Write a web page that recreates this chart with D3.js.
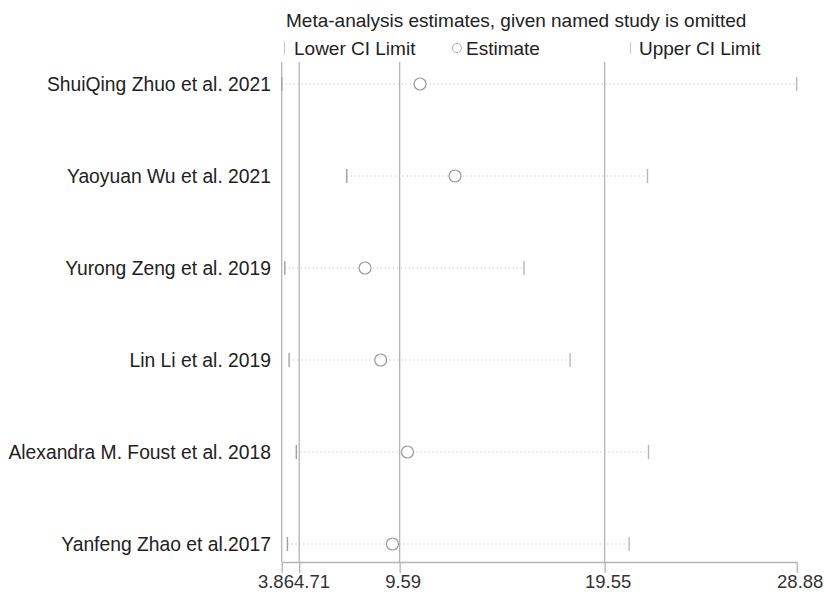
<!DOCTYPE html>
<html>
<head>
<meta charset="utf-8">
<script src="https://cdn.jsdelivr.net/npm/d3@7/dist/d3.min.js"></script>
<style>
  html, body { margin: 0; padding: 0; background: #fff; }
  svg { display: block; }
  text { font-family: "Liberation Sans", Arial, Helvetica, sans-serif; }
</style>
</head>
<body>
<svg id="chart" width="826" height="597"></svg>
<script>
// Leave-one-out meta-analysis: estimate and CI with each study omitted
const studies = [
  "ShuiQing Zhuo et al. 2021",
  "Yaoyuan Wu et al. 2021",
  "Yurong Zeng et al. 2019",
  "Lin Li et al. 2019",
  "Alexandra M. Foust et al. 2018",
  "Yanfeng Zhao et al.2017"
];
const estimate = [10.58, 12.28, 7.91, 8.67, 9.97, 9.24];
const lower    = [3.86, 7.02, 4.01, 4.22, 4.57, 4.14];
const upper    = [28.88, 21.63, 15.63, 17.87, 21.68, 20.74];

// Overall pooled estimate with its confidence limits
const overall = [4.71, 9.59, 19.55];
const tickValues = [3.86, 4.71, 9.59, 19.55, 28.88];
const tickLabels = ["3.86", "4.71", "9.59", "19.55", "28.88"];

const title = "Meta-analysis estimates, given named study is omitted";
const legendLabels = ["Lower CI Limit", "Estimate", "Upper CI Limit"];

const svg = d3.select("#chart");
const lineGrey = "#b4b4b4";
const markGrey = "#a0a0a0";
const textCol = "#222";

const x = d3.scaleLinear().domain([3.86, 28.88]).range([281.7, 796.7]);
const y = d3.scalePoint().domain(studies).range([84, 544]);
const plotTop = 62, plotBottom = 562;

// Title and legend
svg.append("text").attr("x", 286).attr("y", 27)
  .attr("font-size", 19).attr("fill", textCol).text(title);

const leg = svg.append("g");
const legY = 48;
leg.append("line").attr("x1", 284.5).attr("x2", 284.5).attr("y1", legY - 6).attr("y2", legY + 6)
  .attr("stroke", "#c8c8c8").attr("stroke-width", 1.2);
leg.append("text").attr("x", 294).attr("y", legY).attr("dy", "0.35em")
  .attr("font-size", 19).attr("fill", textCol).text(legendLabels[0]);
leg.append("circle").attr("cx", 457).attr("cy", legY).attr("r", 4.5)
  .attr("fill", "none").attr("stroke", "#b0b0b0").attr("stroke-width", 1);
leg.append("text").attr("x", 466).attr("y", legY).attr("dy", "0.35em")
  .attr("font-size", 19).attr("fill", textCol).text(legendLabels[1]);
leg.append("line").attr("x1", 630.5).attr("x2", 630.5).attr("y1", legY - 6).attr("y2", legY + 6)
  .attr("stroke", "#c8c8c8").attr("stroke-width", 1.2);
leg.append("text").attr("x", 639).attr("y", legY).attr("dy", "0.35em")
  .attr("font-size", 19).attr("fill", textCol).text(legendLabels[2]);

// Left boundary line of the plot region
svg.append("line")
  .attr("x1", x.range()[0]).attr("x2", x.range()[0])
  .attr("y1", plotTop).attr("y2", plotBottom)
  .attr("stroke", lineGrey).attr("stroke-width", 1.3);

// Reference lines at the overall estimate and its confidence limits
svg.append("g").selectAll("line").data(overall).join("line")
  .attr("x1", d => x(d)).attr("x2", d => x(d))
  .attr("y1", plotTop).attr("y2", plotBottom)
  .attr("stroke", lineGrey).attr("stroke-width", 1.3);

const rows = studies.map((s, i) => ({ s, est: estimate[i], lo: lower[i], hi: upper[i] }));

// Dotted CI spans
svg.append("g").selectAll("line").data(rows).join("line")
  .attr("x1", d => x(d.lo)).attr("x2", d => x(d.hi))
  .attr("y1", d => y(d.s)).attr("y2", d => y(d.s))
  .attr("stroke", "#c4c4c4").attr("stroke-width", 1)
  .attr("stroke-dasharray", "1.3,2.7");

// CI end caps
const caps = svg.append("g");
caps.selectAll("line.lo").data(rows).join("line").attr("class", "lo")
  .attr("x1", d => x(d.lo)).attr("x2", d => x(d.lo))
  .attr("y1", d => y(d.s) - 7).attr("y2", d => y(d.s) + 7)
  .attr("stroke", markGrey).attr("stroke-width", 1.4);
caps.selectAll("line.hi").data(rows).join("line").attr("class", "hi")
  .attr("x1", d => x(d.hi)).attr("x2", d => x(d.hi))
  .attr("y1", d => y(d.s) - 7).attr("y2", d => y(d.s) + 7)
  .attr("stroke", "#b8b8b8").attr("stroke-width", 1.4);

// Point estimates
svg.append("g").selectAll("circle").data(rows).join("circle")
  .attr("cx", d => x(d.est)).attr("cy", d => y(d.s)).attr("r", 6)
  .attr("fill", "#fff").attr("stroke", "#9a9a9a").attr("stroke-width", 1.2);

// Study labels
svg.append("g").selectAll("text").data(rows).join("text")
  .attr("x", 271).attr("y", d => y(d.s)).attr("dy", "0.35em")
  .attr("text-anchor", "end").attr("font-size", 19.3).attr("fill", textCol)
  .text(d => d.s);

// Bottom axis
const axis = d3.axisBottom(x)
  .tickValues(tickValues)
  .tickFormat((d, i) => tickLabels[i])
  .tickSize(11).tickSizeOuter(0);
const ag = svg.append("g").attr("transform", `translate(0,${plotBottom})`).call(axis);
ag.select(".domain").attr("stroke", lineGrey).attr("stroke-width", 1.3);
ag.selectAll(".tick line").attr("stroke", lineGrey).attr("stroke-width", 1.3);
const labels = ag.selectAll(".tick text")
  .attr("font-size", 18.5).attr("fill", "#333")
  .attr("font-family", "'Liberation Sans', Arial, sans-serif")
  .attr("y", 13).attr("dy", "0.71em").attr("dx", 3);

// Push apart tick labels that would overlap
const nodes = labels.nodes();
const boxes = nodes.map((n, i) => ({ c: x(tickValues[i]) + 3, w: n.getComputedTextLength() }));
for (let i = 1; i < boxes.length; i++) {
  const a = boxes[i - 1], b = boxes[i];
  const overlap = (a.c + a.w / 2) - (b.c - b.w / 2);
  if (overlap > 0) { a.c -= overlap / 2; b.c += overlap / 2; }
}
nodes.forEach((n, i) => d3.select(n).attr("dx", boxes[i].c - x(tickValues[i])));
</script>
</body>
</html>
